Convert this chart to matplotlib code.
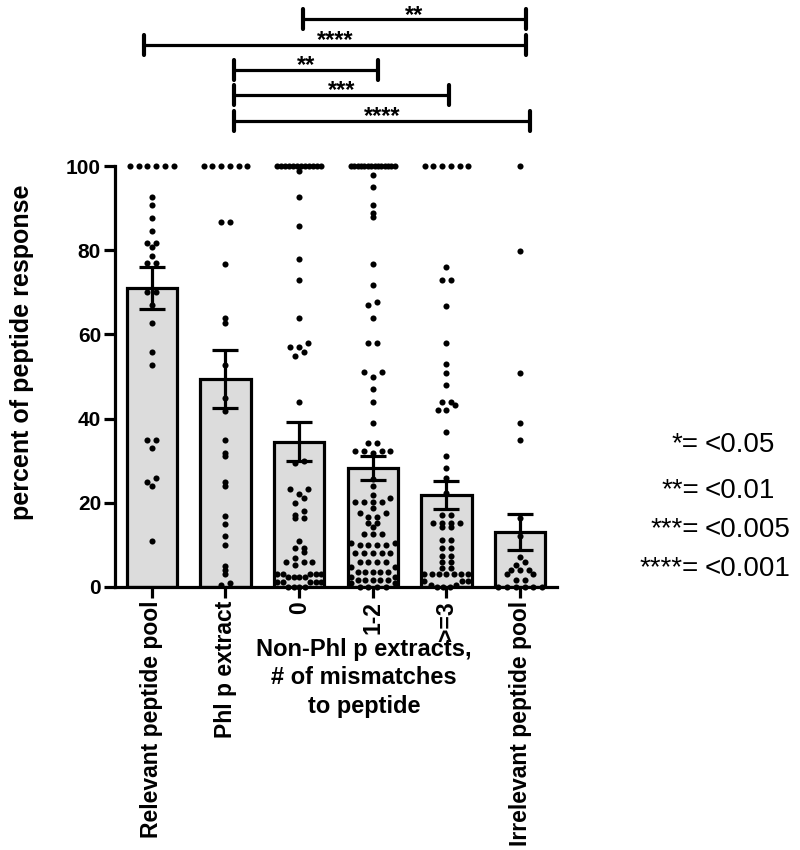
import matplotlib
matplotlib.use('Agg')
import matplotlib.pyplot as plt
import numpy as np

plt.rcParams['font.family'] = ['Liberation Sans', 'DejaVu Sans']

# ---------------- data ----------------
categories = ['Relevant peptide pool', 'Phl p extract', '0', '1-2', '>=3',
              'Irrelevant peptide pool']
means = [71.0, 49.3, 34.5, 28.2, 21.9, 13.1]
sems = [5.0, 6.9, 4.6, 2.9, 3.3, 4.3]

relevant_pool = [100] * 6 + [92.7, 90.7, 87.6, 84.6, 81.8, 81.8, 80.8, 78.6, 76.9,
                             76.9, 70, 70, 67, 62.8, 55.8, 52.8, 35, 35, 33, 26,
                             25, 24, 11]
phl_extract = [100] * 6 + [86.8, 86.8, 76.7, 63.8, 62.8, 52.7, 44.8, 41.9, 34.9,
                           31.9, 31, 25, 24, 16.9, 15, 12, 10, 5, 4, 3, 1, 0.5]
mismatch_0 = [100] * 12 + [98.9, 92.7, 85.7, 77.8, 72.9, 64, 57.9, 56.9, 56.9,
                           55.9, 54.9, 44, 29.9, 29.4, 23.2, 23.2, 22.1, 21.1, 20,
                           18.1, 17.1, 16.3, 16.3, 11, 9.2, 9.2, 8.2, 7, 6, 6, 6,
                           5.2, 3.2, 3.2, 3.2, 3.2, 3.2, 2.3, 2.3, 2.3, 2.3, 1.3,
                           1.3, 1.3, 1.3, 1.3, 0, 0, 0, 0]
mismatch_1_2 = [100] * 14 + [97.9, 94.9, 90.7, 88.9, 87.8, 76.7, 71.7, 67.8, 67,
                             63.8, 57.9, 57.9, 51.1, 51.1, 50, 47, 44, 39, 34.3,
                             34.3, 32.3, 32.3, 32.3, 32.3, 31.8, 25.7, 24, 21.9,
                             21.1, 20.2, 20.2, 20.2, 20.2, 18.7, 17.6, 17.6, 16.7,
                             16.7, 15.1, 15.1, 14.3, 12.6, 12.6, 12.6, 10.4, 10.4,
                             10, 10, 10, 10, 8, 8, 8, 8, 8, 6, 6, 6, 6, 4.8, 4.8,
                             3.6, 3.6, 3.6, 3.6, 3.6, 2.4, 2.4, 1.7, 1.7, 1.7, 1.7,
                             1.7, 0.9, 0.9, 0, 0, 0, 0]
mismatch_3 = [100] * 6 + [75.9, 72.9, 72.9, 66.8, 57.9, 53, 50.9, 47.9, 44, 44,
                          43.2, 42, 42, 36.9, 31.1, 28.2, 26, 22.4, 17.1, 17.1,
                          15.1, 15.1, 15.1, 15.1, 14.3, 14.3, 11.2, 11.2, 9.2, 9.2,
                          7.4, 7.4, 6, 6, 4.5, 4.5, 3.2, 3.2, 3.2, 3.2, 3.2, 3.2,
                          3.2, 1.5, 1.5, 1.5, 0.5, 0.5, 0, 0, 0]
irrelevant_pool = [100, 79.8, 50.9, 38.9, 34.9, 16.3, 12.1, 7.2, 6, 5.2, 4, 4, 4,
                   3.1, 3.1, 1.7, 1.7, 0, 0, 0, 0, 0, 0]

groups = [relevant_pool, phl_extract, mismatch_0, mismatch_1_2, mismatch_3,
          irrelevant_pool]

y_ticks = [0, 20, 40, 60, 80, 100]
y_label = 'percent of peptide response'
group_label = 'Non-Phl p extracts,\n# of mismatches\nto peptide'

# significance brackets: (left group, right group, label)
brackets = [(1, 5, '****'), (1, 4, '***'), (1, 3, '**'), (0, 5, '****'),
            (2, 5, '**')]
legend_stars = ['*', '**', '***', '****']
legend_p = ['<0.05', '<0.01', '<0.005', '<0.001']

# ---------------- style / layout ----------------
W, H, DPI = 8.0, 8.5, 100
LW = 2.3
bracket_shift = [(0.12, 0.135), (0.12, 0.04), (0.12, 0.07), (-0.1, 0.08),
                 (0.05, 0.08)]

fig = plt.figure(figsize=(W, H), dpi=DPI)
ax_l, ax_b, ax_w, ax_h = 115 / 800, 1 - 587 / 850, 442 / 800, 421 / 850
ax = fig.add_axes([ax_l, ax_b, ax_w, ax_h])
ax.set_xlim(-0.5, 5.5)
ax.set_ylim(0, 100)

px_per_x = ax_w * W * DPI / 6.0
px_per_y = ax_h * H * DPI / 100.0

x = np.arange(len(categories))
ax.bar(x, means, width=0.68, color='#dcdcdc', edgecolor='black', linewidth=LW,
       zorder=2)


def swarm_offsets(vals, spacing_px=8.7, bin_px=7.0, max_half_px=22.0):
    vals = np.asarray(vals, float)
    ypx = vals * px_per_y
    bins = np.floor(ypx / bin_px + 1e-9).astype(int)
    off = np.zeros(len(vals))
    for b in np.unique(bins):
        idx = np.where(bins == b)[0]
        n = len(idx)
        if n == 1:
            continue
        idx = idx[np.argsort(vals[idx], kind='stable')]
        s = spacing_px
        if (n - 1) * s / 2 > max_half_px:
            s = 2 * max_half_px / (n - 1)
        pos = (np.arange(n) - (n - 1) / 2) * s
        order = np.argsort(np.abs(pos) + 1e-6 * pos, kind='stable')
        off[idx] = pos[order]
    return off / px_per_x


for i, vals in enumerate(groups):
    offs = swarm_offsets(vals)
    ax.plot(i + offs, vals, 'o', color='black', ms=4.4, mew=0, zorder=3,
            clip_on=False)

ax.errorbar(x, means, yerr=sems, fmt='none', ecolor='black', elinewidth=LW,
            capsize=9.5, capthick=LW, zorder=4)

for s in ['top', 'right']:
    ax.spines[s].set_visible(False)
for s in ['left', 'bottom']:
    ax.spines[s].set_linewidth(LW)
    ax.spines[s].set_capstyle('projecting')

ax.set_yticks(y_ticks)
ax.set_yticklabels([str(t) for t in y_ticks], fontsize=15, fontweight='bold')
ax.set_xticks(x)
ax.set_xticklabels(categories, rotation=90, fontsize=16.5, fontweight='bold')
ax.tick_params(axis='both', length=8, width=LW, direction='out', pad=2)

fig.text(22 / 800, 1 - 352 / 850, y_label, rotation=90, ha='center',
         va='center', fontsize=18, fontweight='bold')
fig.text(364 / 800, 1 - 678 / 850, group_label, ha='center', va='center',
         fontsize=17, fontweight='bold', linespacing=1.32)

# brackets
half_tick = 10 / px_per_y
for k, ((a, b, lab), (sa, sb)) in enumerate(zip(brackets, bracket_shift)):
    yb = 110.8 + 6.0 * k
    x0, x1 = a + sa, b + sb
    ax.plot([x0, x1], [yb, yb], color='black', lw=LW, clip_on=False,
            solid_capstyle='butt')
    for xe in (x0, x1):
        ax.plot([xe, xe], [yb - half_tick, yb + half_tick], color='black',
                lw=LW * 1.3, clip_on=False, solid_capstyle='round')
    ax.text((x0 + x1) / 2, yb - 0.5, lab, ha='center', va='baseline',
            fontsize=17, fontweight='bold', clip_on=False)

# p-value legend
base_y = [452, 498, 537, 576]
for st, p, by in zip(legend_stars, legend_p, base_y):
    fig.text(699 / 800, 1 - by / 850, st + '=', ha='right', va='baseline',
             fontsize=20)
    fig.text(705 / 800, 1 - by / 850, p, ha='left', va='baseline', fontsize=20)

fig.savefig('out.png', dpi=DPI)
